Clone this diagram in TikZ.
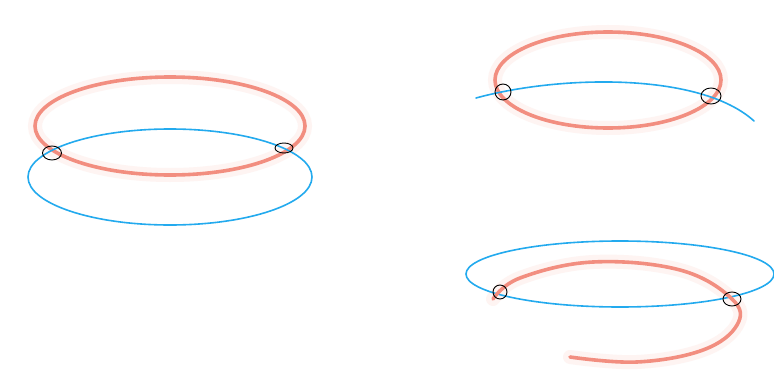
\documentclass[tikz,border=0pt]{standalone}
\definecolor{salmon}{RGB}{242,142,128}
\definecolor{skyb}{RGB}{35,170,238}
\begin{document}
\begin{tikzpicture}[x=1pt,y=-1pt,
  halo/.style={draw=salmon!10,line width=14pt,line cap=round},
  redline/.style={draw=salmon,line width=3.6pt,line cap=round},
  blueline/.style={draw=skyb,line width=1.6pt,line cap=round},
  marker/.style={draw=black,line width=0.9pt}]
\useasboundingbox[fill=white] (0,0) rectangle (774,388);
% ---------- left figure ----------
\draw[halo] (170,126) ellipse [x radius=135,y radius=49];
\draw[redline] (170,126) ellipse [x radius=135,y radius=49];
\draw[blueline] (170,177) ellipse [x radius=142,y radius=48];
\coordinate (L1) at (52,153);
\coordinate (L2) at (284,148);
\draw[marker] (L1) ellipse [x radius=9.5,y radius=7];
\draw[marker] (L2) ellipse [x radius=9,y radius=5];
% ---------- top right figure ----------
\draw[halo] (608,80) ellipse [x radius=113,y radius=48];
\draw[redline] (608,80) ellipse [x radius=113,y radius=48];
\coordinate (Bs) at (476,98);
\coordinate (Be) at (754,121);
\draw[blueline] (Bs) .. controls (560,75) and (700,72) .. (Be);
\coordinate (T1) at (503,92);
\coordinate (T2) at (711,96);
\draw[marker] (T1) ellipse [x radius=8,y radius=8];
\draw[marker] (T2) ellipse [x radius=10,y radius=8];
% ---------- bottom right figure ----------
\draw[halo] plot[smooth,tension=0.65] coordinates {(493,299) (520,278) (593,262) (680,270) (732,299) (737,325) (703,350) (637,362) (570,357)};
\draw[blueline] (620,274) ellipse [x radius=154,y radius=33];
\draw[redline] plot[smooth,tension=0.65] coordinates {(493,299) (520,278) (593,262) (680,270) (732,299) (737,325) (703,350) (637,362) (570,357)};
\coordinate (B1) at (500,292);
\coordinate (B2) at (732,299);
\draw[marker] (B1) ellipse [x radius=7,y radius=7];
\draw[marker] (B2) ellipse [x radius=9,y radius=7];
\end{tikzpicture}
\end{document}
